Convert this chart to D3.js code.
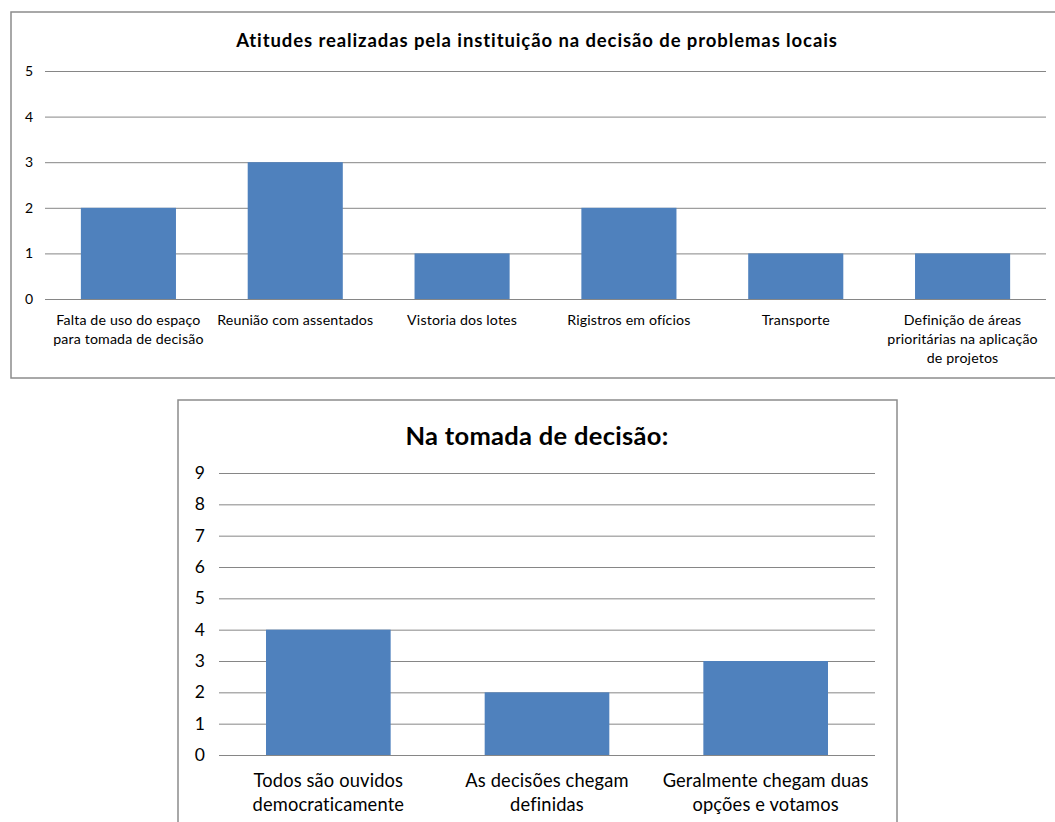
<!DOCTYPE html>
<html><head><meta charset="utf-8">
<script src="https://cdn.jsdelivr.net/npm/d3@7"></script>
<style>
body{margin:0;background:#fff;}
svg{display:block;font-family:Lato,"Open Sans",sans-serif;}
</style></head>
<body>
<svg id="c" width="1055" height="822"></svg>
<script>
const title1 = "Atitudes realizadas pela instituição na decisão de problemas locais";
const categories1 = [
  "Falta de uso do espaço\npara tomada de decisão",
  "Reunião com assentados",
  "Vistoria dos lotes",
  "Rigistros em ofícios",
  "Transporte",
  "Definição de áreas\nprioritárias na aplicação\nde projetos"
];
const values1 = [2, 3, 1, 2, 1, 1];
const ticks1 = [0, 1, 2, 3, 4, 5];

const title2 = "Na tomada de decisão:";
const categories2 = [
  "Todos são ouvidos\ndemocraticamente",
  "As decisões chegam\ndefinidas",
  "Geralmente chegam duas\nopções e votamos"
];
const values2 = [4, 2, 3];
const ticks2 = [0, 1, 2, 3, 4, 5, 6, 7, 8, 9];

const svg = d3.select("#c");
const BAR = "#4F81BD", GRID = "#868686", BORDER = "#8c8c8c";

function chart(o) {
  const g = svg.append("g");
  g.append("rect").attr("x", o.box[0]).attr("y", o.box[1]).attr("width", o.box[2]).attr("height", o.box[3])
    .attr("fill", "#fff").attr("stroke", BORDER).attr("stroke-width", 1.5);
  g.append("text").attr("x", o.titleX).attr("y", o.titleY).attr("text-anchor", "middle")
    .attr("font-weight", "bold").attr("font-size", o.titleSize).attr("letter-spacing", o.titleLS)
    .attr("fill", "#000").text(o.title);
  const x = d3.scaleBand().domain(o.cats).range([o.x0, o.x1]).paddingInner(0.43).paddingOuter(0.215);
  const y = d3.scaleLinear().domain([0, d3.max(o.ticks)]).range([o.y0, o.y1]);
  const ya = d3.axisLeft(y).tickValues(o.ticks).tickSize(-(o.x1 - o.x0)).tickPadding(o.tickPad).tickFormat(d3.format("d"));
  const ag = g.append("g").attr("transform", `translate(${o.x0},0)`).call(ya);
  ag.select(".domain").remove();
  ag.selectAll(".tick line").attr("stroke", GRID).attr("stroke-width", 1);
  ag.selectAll(".tick text").attr("font-size", o.tickSize).attr("fill", "#000").attr("font-family", "Lato,sans-serif");
  g.selectAll("rect.bar").data(o.vals).join("rect").attr("class", "bar")
    .attr("x", (d, i) => x(o.cats[i])).attr("width", x.bandwidth())
    .attr("y", d => y(d)).attr("height", d => y(0) - y(d)).attr("fill", BAR);
  const lab = g.selectAll("text.cat").data(o.cats).join("text").attr("class", "cat")
    .attr("text-anchor", "middle").attr("font-size", o.labSize).attr("letter-spacing", o.labLS).attr("fill", "#000");
  lab.each(function(c) {
    const t = d3.select(this);
    c.split("\n").forEach((line, k) => {
      t.append("tspan").attr("x", x(c) + x.bandwidth() / 2).attr("y", o.labY + k * o.labLH).text(line);
    });
  });
}

chart({box: [11, 12, 1060, 366], title: title1, titleX: 537, titleY: 47, titleSize: 18.5, titleLS: 0.9,
  cats: categories1, vals: values1, ticks: ticks1, x0: 45, x1: 1046, y0: 299, y1: 71,
  tickPad: 12, tickSize: 14, labSize: 14.2, labLS: 0.15, labY: 325, labLH: 19});

chart({box: [178, 400, 719, 440], title: title2, titleX: 537, titleY: 445, titleSize: 25.5, titleLS: 0.3,
  cats: categories2, vals: values2, ticks: ticks2, x0: 219, x1: 875, y0: 755, y1: 473,
  tickPad: 14, tickSize: 17.5, labSize: 18.3, labLS: 0.15, labY: 787, labLH: 24});
</script>
</body></html>
